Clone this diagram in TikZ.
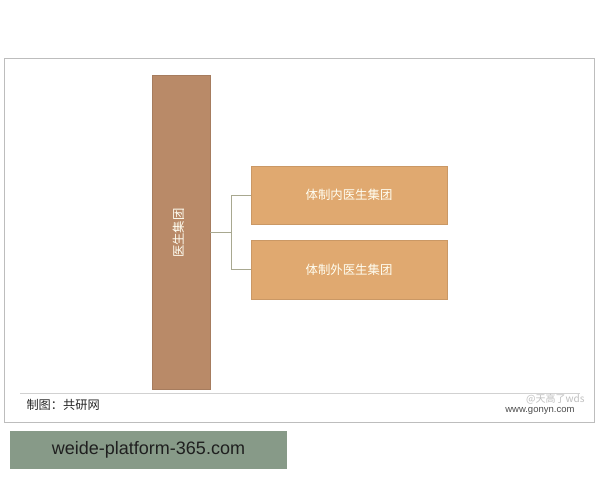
\documentclass[tikz,border=0pt]{standalone}
\usepackage{fontspec}
\setmainfont{Liberation Sans}
\newfontfamily\cjk{Noto Sans CJK SC}
\definecolor{brownbar}{HTML}{B98A68}
\definecolor{tanbox}{HTML}{E0A970}
\definecolor{greenbar}{HTML}{879A88}
\definecolor{linkcol}{HTML}{A8A890}
\definecolor{framecol}{HTML}{BDBDBD}
\begin{document}
\begin{tikzpicture}[x=1pt,y=-1pt,
  boxstyle/.style={fill=tanbox,draw=tanbox!90!black,line width=0.4pt,inner sep=0pt},
  barstyle/.style={fill=brownbar,draw=brownbar!90!black,line width=0.4pt,inner sep=0pt},
  boxtext/.style={text=white!95!yellow,font=\cjk\fontsize{12.4}{14}\selectfont},
  linkstyle/.style={draw=linkcol,line width=0.6pt}]
\useasboundingbox (0,0) rectangle (600,480);
\fill[white] (0,0) rectangle (600,480);
% outer frame
\draw[framecol,line width=0.8pt] (4,58) rectangle (594,422);
\draw[framecol!70,line width=0.6pt] (20,393) -- (580,393);
% tall bar
\node[barstyle,minimum width=58pt,minimum height=314pt] (main) at (181,232) {};
\node[boxtext,rotate=90] (maintext) at (179,233) {医生集团};
% boxes
\node[boxstyle,minimum width=196pt,minimum height=58pt] (in) at (349,195) {};
\node[boxtext] (intext) at (349,195) {体制内医生集团};
\node[boxstyle,minimum width=196pt,minimum height=59pt] (out) at (349,269.5) {};
\node[boxtext] (outtext) at (349,269.5) {体制外医生集团};
% connectors
\coordinate (j) at (231,232);
\draw[linkstyle] (main.east |- j) -- (j);
\draw[linkstyle] (in.west) -| (j);
\draw[linkstyle] (out.west) -| (j);
% footer
\node[anchor=west,font=\cjk\fontsize{12.2}{14}\selectfont,text=black!85] (src) at (23,405) {制图：共研网};
\node[anchor=east,font=\fontsize{9.5}{11}\selectfont,text=black!70] (web) at (578,411) {www.gonyn.com};
\node[anchor=east,font=\cjk\fontsize{10}{12}\selectfont,text=black!25] (wm) at (588,399) {@天高了wds};
% green bar
\node[fill=greenbar,minimum width=277pt,minimum height=38pt,inner sep=0pt] (gbar) at (148.5,450) {};
\node[font=\fontsize{18}{20}\selectfont,text=black!88] (gtext) at (148.5,450) {weide-platform-365.com};
\end{tikzpicture}
\end{document}
